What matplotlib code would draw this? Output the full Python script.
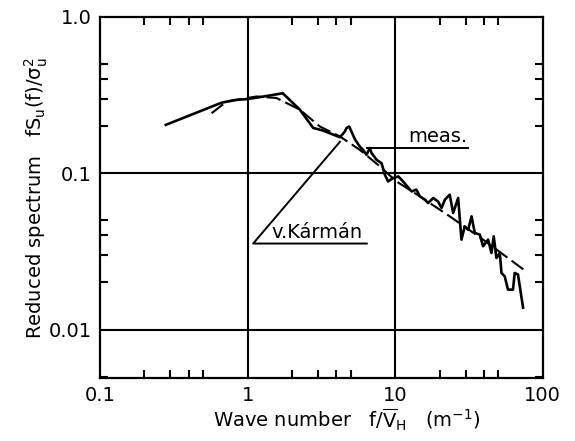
import matplotlib.pyplot as plt
from matplotlib.ticker import FixedLocator, NullFormatter

plt.rcParams["mathtext.default"] = "regular"

meas_k = [0.279, 0.667, 0.843, 0.984, 1.21, 1.73, 2.26, 2.78, 3.22, 4.22,
          4.56, 4.68, 4.88, 5.33, 5.76, 6.06, 6.39, 6.73, 6.91, 7.47,
          8.08, 8.51, 8.95, 9.68, 10.5, 11.3, 12.9, 13.9, 14.7, 15.9,
          16.7, 18.1, 19.5, 20.6, 21.7, 23.4, 24.7, 26.7, 28.1, 29.6,
          31.2, 32.9, 34.6, 37.4, 39.4, 42.6, 44.9, 46.5, 48.5, 51.1,
          52.5, 55.2, 58.1, 62.8, 64.5, 67.9, 73.5]
meas_s = [0.204, 0.283, 0.295, 0.298, 0.307, 0.325, 0.255, 0.195, 0.188, 0.170,
          0.185, 0.195, 0.199, 0.165, 0.148, 0.141, 0.131, 0.145, 0.135, 0.122,
          0.116, 0.0978, 0.0886, 0.0932, 0.0954, 0.0886, 0.0765, 0.0785, 0.0711, 0.0677,
          0.0645, 0.0694, 0.0660, 0.0600, 0.0677, 0.0729, 0.0557, 0.0694, 0.0376, 0.0457,
          0.0435, 0.0530, 0.0415, 0.0405, 0.0341, 0.0376, 0.0309, 0.0395, 0.0287, 0.0309,
          0.0230, 0.0219, 0.0180, 0.0180, 0.0230, 0.0225, 0.0138]

# von Karman curve (dashed)
vk_k = [0.570, 0.721, 1.15, 1.57, 2.26, 3.09, 4.22, 5.76, 7.66, 10.2, 14.7, 23.4, 39.4, 75.4]
vk_s = [0.242, 0.288, 0.310, 0.303, 0.255, 0.199, 0.172, 0.141, 0.113, 0.0886, 0.0711, 0.053, 0.0376, 0.0239]

x_ticks = [0.1, 1, 10, 100]
x_labels = ["0.1", "1", "10", "100"]
y_ticks = [0.01, 0.1, 1.0]
y_labels = ["0.01", "0.1", "1.0"]

fig = plt.figure(figsize=(5.75, 4.41), dpi=100)
ax = fig.add_axes([0.174, 0.143, 0.770, 0.8185])

ax.plot(meas_k, meas_s, color="black", lw=1.9)
ax.plot(vk_k, vk_s, color="black", lw=1.5, dashes=(7, 2.5))

ax.set_xscale("log")
ax.set_yscale("log")
ax.set_xlim(0.1, 100)
ax.set_ylim(0.0049, 1.0)

for v in [1, 10]:
    ax.axvline(v, color="black", lw=1.5)
for v in [0.01, 0.1]:
    ax.axhline(v, color="black", lw=1.5)

ax.xaxis.set_major_locator(FixedLocator(x_ticks))
ax.set_xticklabels(x_labels)
ax.yaxis.set_major_locator(FixedLocator(y_ticks))
ax.set_yticklabels(y_labels)
minor = [m * 10.0 ** e for e in range(-3, 2) for m in (2, 3, 4, 5)]
ax.xaxis.set_minor_locator(FixedLocator(minor))
ax.yaxis.set_minor_locator(FixedLocator(minor))
ax.xaxis.set_minor_formatter(NullFormatter())
ax.yaxis.set_minor_formatter(NullFormatter())
ax.tick_params(which="major", length=0, labelsize=14, pad=6)
ax.tick_params(which="minor", direction="in", length=6, width=1.5,
               top=True, right=True)
for s in ax.spines.values():
    s.set_linewidth(1.6)

# annotations
ax.plot([6.47, 31.0], [0.145, 0.145], color="black", lw=1.4)
ax.text(19.4, 0.172, "meas.", fontsize=14, ha="center", va="center")
ax.plot([4.22, 1.09, 6.42], [0.159, 0.0355, 0.0355], color="black", lw=1.4)
ax.text(2.94, 0.0417, "v.Kármán", fontsize=14, ha="center", va="center")

fig.text(0.064, 0.55, r"Reduced spectrum   $fS_u(f)/\sigma_u^2$",
         rotation=90, fontsize=14, ha="center", va="center")
fig.text(0.603, 0.048, r"Wave number   $f/\overline{V}_H$   (m$^{-1}$)",
         fontsize=14, ha="center", va="center")

fig.savefig("out.png", dpi=100)
